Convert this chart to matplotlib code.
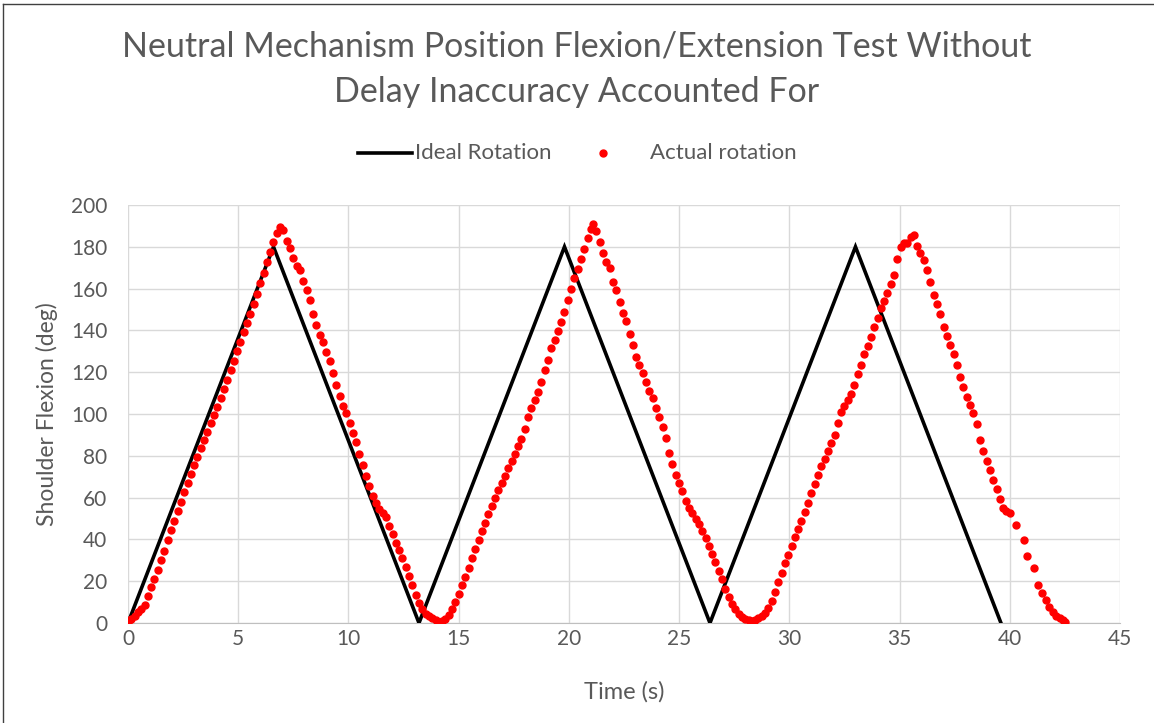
import matplotlib
matplotlib.use("Agg")
import matplotlib.pyplot as plt
from matplotlib.lines import Line2D

# ideal rotation (triangle wave)
ideal_t = [0, 6.6, 13.2, 19.8, 26.4, 33.0, 39.6]
ideal_deg = [0, 180, 0, 180, 0, 180, 0]

# actual rotation
actual_t = [
    0.00, 0.15, 0.30, 0.45, 0.60, 0.75, 0.90, 1.05, 1.20, 1.35, 1.50, 1.65, 1.80, 1.95,
    2.10, 2.25, 2.40, 2.55, 2.70, 2.85, 3.00, 3.15, 3.30, 3.45, 3.60, 3.75, 3.90, 4.05,
    4.20, 4.35, 4.50, 4.65, 4.80, 4.95, 5.10, 5.25, 5.40, 5.55, 5.70, 5.85, 6.00, 6.15,
    6.30, 6.45, 6.60, 6.75, 6.90, 7.05, 7.20, 7.35, 7.50, 7.65, 7.80, 7.95, 8.10, 8.25,
    8.40, 8.55, 8.70, 8.85, 9.00, 9.15, 9.30, 9.45, 9.60, 9.75, 9.90, 10.05, 10.20, 10.35,
    10.50, 10.65, 10.80, 10.95, 11.10, 11.25, 11.40, 11.55, 11.70, 11.85, 12.00, 12.15,
    12.30, 12.45, 12.60, 12.75, 12.90, 13.05, 13.20, 13.35, 13.50, 13.65, 13.80, 13.95,
    14.10, 14.25, 14.40, 14.55, 14.70, 14.85, 15.00, 15.15, 15.30, 15.45, 15.60, 15.75,
    15.90, 16.05, 16.20, 16.35, 16.50, 16.65, 16.80, 16.95, 17.10, 17.25, 17.40, 17.55,
    17.70, 17.85, 18.00, 18.15, 18.30, 18.45, 18.60, 18.75, 18.90, 19.05, 19.20, 19.35,
    19.50, 19.65, 19.80, 19.95, 20.10, 20.25, 20.40, 20.55, 20.70, 20.85, 21.00, 21.10,
    21.25, 21.40, 21.55, 21.70, 21.85, 22.00, 22.15, 22.30, 22.45, 22.60, 22.75, 22.90,
    23.05, 23.20, 23.35, 23.50, 23.65, 23.80, 23.95, 24.10, 24.25, 24.40, 24.55, 24.70,
    24.85, 25.00, 25.15, 25.30, 25.45, 25.60, 25.75, 25.90, 26.05, 26.20, 26.35, 26.50,
    26.65, 26.80, 26.95, 27.10, 27.25, 27.40, 27.55, 27.70, 27.85, 28.00, 28.15, 28.30,
    28.45, 28.60, 28.75, 28.90, 29.05, 29.20, 29.35, 29.50, 29.65, 29.80, 29.95, 30.10,
    30.25, 30.40, 30.55, 30.70, 30.85, 31.00, 31.15, 31.30, 31.45, 31.60, 31.75, 31.90,
    32.05, 32.20, 32.35, 32.50, 32.65, 32.80, 32.95, 33.10, 33.25, 33.40, 33.55, 33.70,
    33.85, 34.00, 34.15, 34.30, 34.45, 34.60, 34.75, 34.90, 35.05, 35.20, 35.35, 35.50,
    35.65, 35.80, 35.95, 36.10, 36.25, 36.40, 36.55, 36.70, 36.85, 37.00, 37.15, 37.30,
    37.45, 37.60, 37.75, 37.90, 38.05, 38.20, 38.35, 38.50, 38.65, 38.80, 38.95, 39.10,
    39.25, 39.40, 39.55, 39.70, 39.85, 40.00, 40.30, 40.65, 40.80, 41.10, 41.30, 41.45,
    41.65, 41.80, 41.95, 42.10, 42.26, 42.40, 42.51,
]
actual_deg = [
    0.6, 1.8, 3.5, 5.2, 6.6, 8.8, 13.0, 17.0, 21.0, 25.5, 30.0, 34.5, 39.5, 44.5,
    49.0, 53.5, 58.0, 62.5, 67.0, 71.5, 75.5, 79.5, 83.5, 87.5, 91.5, 95.5, 99.5, 103.5,
    107.5, 112.0, 116.5, 121.0, 125.5, 130.0, 134.5, 139.0, 143.5, 148.0, 152.5, 157.5, 162.5, 167.5,
    172.5, 177.5, 182.5, 186.5, 189.5, 188.0, 183.0, 179.5, 174.5, 171.0, 169.0, 163.5, 159.5, 154.5,
    148.0, 142.5, 138.0, 134.5, 129.5, 125.5, 119.5, 114.0, 108.5, 104.0, 100.5, 95.5, 91.0, 86.5,
    81.0, 75.5, 70.5, 65.5, 61.0, 57.5, 54.5, 52.5, 50.5, 46.5, 42.5, 38.5,
    35.0, 31.0, 27.0, 22.5, 18.0, 13.5, 9.5, 6.5, 4.5, 3.2, 2.2, 1.2,
    0.6, 0.8, 2.0, 3.8, 6.5, 10.0, 14.0, 18.0, 22.0, 26.5, 31.0, 35.5,
    39.5, 44.0, 48.0, 52.0, 56.0, 60.0, 63.5, 67.0, 70.5, 74.0, 77.5, 81.0,
    84.5, 88.0, 93.0, 98.5, 103.0, 106.5, 110.5, 115.5, 121.0, 126.0, 131.5, 135.5,
    139.5, 144.0, 149.0, 154.5, 160.0, 165.0, 169.5, 174.0, 179.0, 184.0, 188.5, 191.0,
    187.5, 182.5, 177.0, 172.5, 170.0, 163.0, 159.5, 153.5, 148.5, 144.5, 138.5, 133.0,
    127.5, 123.5, 119.5, 115.5, 111.0, 107.5, 103.0, 98.5, 94.0, 88.5, 81.5, 76.0,
    71.0, 67.0, 63.0, 58.5, 55.0, 52.5, 50.0, 47.5, 44.0, 40.5, 37.0, 33.0,
    29.0, 25.0, 21.0, 16.5, 12.5, 9.0, 6.5, 4.5, 3.0, 2.0, 1.2, 0.8,
    1.5, 2.5, 3.5, 5.0, 7.0, 10.5, 15.0, 19.5, 24.0, 28.5, 32.5, 37.0,
    41.0, 45.0, 49.0, 53.0, 57.5, 62.0, 66.5, 71.0, 75.0, 78.5, 82.5, 86.0,
    90.0, 95.5, 101.0, 104.0, 106.5, 109.5, 114.0, 119.0, 123.5, 128.5, 132.5, 137.0,
    141.5, 146.0, 150.5, 154.0, 158.0, 162.0, 166.5, 174.0, 180.0, 181.7, 181.7, 184.5,
    185.6, 180.5, 177.0, 173.5, 169.0, 163.0, 157.0, 152.5, 148.0, 141.8, 137.5, 133.0,
    128.5, 123.4, 117.5, 113.0, 108.3, 104.3, 100.3, 95.0, 87.6, 82.5, 77.5, 73.0,
    68.5, 64.0, 59.5, 55.0, 53.5, 52.5, 46.9, 39.7, 32.1, 26.2, 18.2, 14.5,
    11.0, 7.5, 5.4, 3.5, 2.2, 1.5, 0.6,
]

x_ticks = [0, 5, 10, 15, 20, 25, 30, 35, 40, 45]
y_ticks = [0, 20, 40, 60, 80, 100, 120, 140, 160, 180, 200]

W, H = 1154, 723
txt = "#595959"
plt.rcParams["font.family"] = "Lato"

fig = plt.figure(figsize=(W / 100, H / 100), dpi=100)
ax = fig.add_axes([128 / W, 1 - 623 / H, (1120 - 128) / W, (623 - 205) / H])

ax.plot(ideal_t, ideal_deg, color="black", linewidth=2.6, solid_joinstyle="miter", zorder=3)
ax.plot(actual_t, actual_deg, linestyle="None", marker="o", markersize=5,
        markerfacecolor="#ff0000", markeredgecolor="#ff0000", zorder=4)

ax.set_xlim(0, 45)
ax.set_ylim(0, 200)
ax.set_xticks(x_ticks)
ax.set_yticks(y_ticks)
ax.grid(True, color="#d9d9d9", linewidth=1)
ax.set_axisbelow(True)
for s in ["top", "right", "left"]:
    ax.spines[s].set_visible(False)
ax.spines["bottom"].set_color("#bfbfbf")
ax.tick_params(length=0, labelsize=15, labelcolor=txt)
ax.tick_params(axis="y", pad=15)
ax.tick_params(axis="x", pad=4)

ax.set_xlabel("Time (s)", fontsize=17, color=txt, va="center")
ax.xaxis.set_label_coords(0.5, (623 - 692) / (623 - 205))
ax.set_ylabel("Shoulder Flexion (deg)", fontsize=16.5, color=txt, va="center")
ax.yaxis.set_label_coords((47 - 128) / (1120 - 128), 0.5)

# title
fig.text(0.5, 1 - 47 / H, "Neutral Mechanism Position Flexion/Extension Test Without",
         ha="center", va="center", fontsize=24.5, color=txt)
fig.text(0.5, 1 - 92 / H, "Delay Inaccuracy Accounted For",
         ha="center", va="center", fontsize=24.5, color=txt)

# legend
ly = 1 - 153 / H
fig.add_artist(Line2D([358 / W, 412 / W], [ly, ly], color="black", linewidth=2.6))
fig.text(415 / W, ly, "Ideal Rotation", ha="left", va="center", fontsize=16, color=txt)
fig.add_artist(Line2D([603 / W], [ly], marker="o", markersize=5, color="#ff0000", linestyle="None"))
fig.text(650 / W, ly, "Actual rotation", ha="left", va="center", fontsize=16, color=txt)

# chart border
fig.add_artist(Line2D([2.5 / W, 2.5 / W], [0, 1 - 3.5 / H], color="#404040", linewidth=1))
fig.add_artist(Line2D([2.5 / W, 1], [1 - 3.5 / H, 1 - 3.5 / H], color="#404040", linewidth=1))

fig.savefig("out.png", dpi=100)
